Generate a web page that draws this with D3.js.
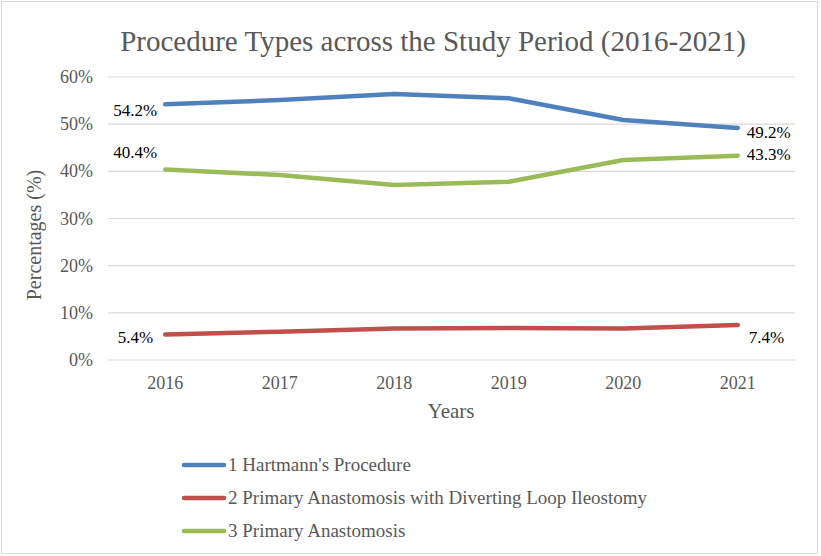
<!DOCTYPE html>
<html><head><meta charset="utf-8">
<script src="https://cdn.jsdelivr.net/npm/d3@7"></script>
<style>body{margin:0;background:#fff}svg{display:block}</style>
</head><body>
<svg id="c" width="821" height="556" font-family="Liberation Serif, DejaVu Serif, serif"></svg>
<script>
const years = ["2016","2017","2018","2019","2020","2021"];
const hartmann = [54.2, 55.1, 56.4, 55.5, 50.9, 49.2];
const diverting = [5.4, 6.0, 6.7, 6.8, 6.7, 7.4];
const primary = [40.4, 39.2, 37.1, 37.8, 42.4, 43.3];
const yTicks = [0, 10, 20, 30, 40, 50, 60];
const seriesNames = ["1 Hartmann's Procedure", "2 Primary Anastomosis with Diverting Loop Ileostomy", "3 Primary Anastomosis"];
const colors = ["#4F81BD", "#C0504D", "#9BBB59"];
const FF = "Liberation Serif, DejaVu Serif, serif";

const svg = d3.select("#c");
svg.append("rect").attr("x",1.5).attr("y",1.5).attr("width",816).attr("height",552).attr("fill","#fff").attr("stroke","#d9d9d9").attr("stroke-width",1);

const x = d3.scaleBand().domain(years).range([108, 795]);
const y = d3.scaleLinear().domain([0, 60]).range([360, 77]);

svg.append("text").attr("font-family",FF).attr("x",433).attr("y",51).attr("text-anchor","middle").attr("font-size",29).attr("fill","#595959").text("Procedure Types across the Study Period (2016-2021)");

const g = svg.append("g");
g.selectAll("line.grid").data(yTicks).join("line").attr("class","grid")
 .attr("x1",108).attr("x2",795).attr("y1",d=>y(d)).attr("y2",d=>y(d)).attr("stroke","#d9d9d9").attr("stroke-width",1.2);
g.selectAll("text.yt").data(yTicks).join("text").attr("class","yt").attr("font-family",FF)
 .attr("x",93).attr("y",d=>y(d)+6).attr("text-anchor","end").attr("font-size",18).attr("fill","#595959").text(d=>d+"%");
g.selectAll("text.xt").data(years).join("text").attr("class","xt").attr("font-family",FF)
 .attr("x",d=>x(d)+x.bandwidth()/2).attr("y",389).attr("text-anchor","middle").attr("font-size",18).attr("fill","#595959").text(d=>d);

svg.append("text").attr("font-family",FF).attr("x",451).attr("y",418).attr("text-anchor","middle").attr("font-size",21).attr("fill","#595959").text("Years");
svg.append("text").attr("font-family",FF).attr("transform","translate(41,235) rotate(-90)").attr("text-anchor","middle").attr("font-size",20).attr("fill","#595959").text("Percentages (%)");

const allSeries = [hartmann, diverting, primary];
const line = d3.line().x((d,i)=>x(years[i])+x.bandwidth()/2).y(d=>y(d)).curve(d3.curveLinear);
allSeries.forEach((s,k)=>{
  svg.append("path").attr("d",line(s)).attr("fill","none").attr("stroke",colors[k]).attr("stroke-width",4.5).attr("stroke-linecap","round").attr("stroke-linejoin","round");
});

const cx = i => x(years[i])+x.bandwidth()/2;
const lbl = (xx,yy,t,anchor)=>svg.append("text").attr("font-family",FF).attr("x",xx).attr("y",yy).attr("text-anchor",anchor).attr("font-size",17).attr("fill","#000").text(t);
lbl(cx(0)-8, y(hartmann[0])+12, hartmann[0].toFixed(1)+"%", "end");
lbl(cx(0)-8, y(primary[0])-11, primary[0].toFixed(1)+"%", "end");
lbl(cx(0)-12, y(diverting[0])+8, diverting[0].toFixed(1)+"%", "end");
lbl(cx(5)+9, y(hartmann[5])+10, hartmann[5].toFixed(1)+"%", "start");
lbl(cx(5)+9, y(primary[5])+4, primary[5].toFixed(1)+"%", "start");
lbl(cx(5)+11, y(diverting[5])+18, diverting[5].toFixed(1)+"%", "start");

const lg = svg.append("g");
seriesNames.forEach((n,k)=>{
  const yy = 465 + k*33;
  lg.append("line").attr("x1",184).attr("x2",224).attr("y1",yy).attr("y2",yy).attr("stroke",colors[k]).attr("stroke-width",4.5).attr("stroke-linecap","round");
  lg.append("text").attr("font-family",FF).attr("x",228).attr("y",yy+6).attr("font-size",19).attr("fill","#595959").text(n);
});
</script>
</body></html>
